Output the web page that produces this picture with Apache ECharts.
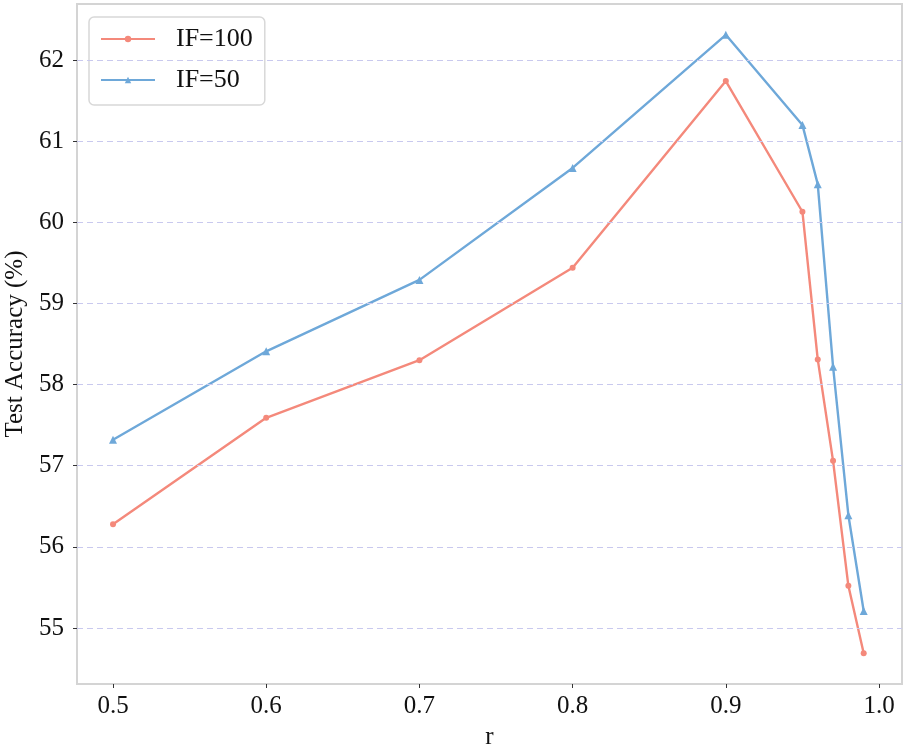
<!DOCTYPE html>
<html><head><meta charset="utf-8">
<script src="https://cdn.jsdelivr.net/npm/echarts@6/dist/echarts.min.js"></script>
<style>html,body{margin:0;padding:0;background:#fff}#c{width:907px;height:749px}</style>
</head><body><div id="c"></div>
<script>
const rValues = [0.5, 0.6, 0.7, 0.8, 0.9, 0.95, 0.96, 0.97, 0.98, 0.99];
const if100 = [56.28, 57.59, 58.30, 59.44, 61.74, 60.13, 58.31, 57.06, 55.52, 54.69];
const if50 = [57.32, 58.41, 59.29, 60.67, 62.31, 61.20, 60.47, 58.22, 56.39, 55.21];
const xTicks = [0.5, 0.6, 0.7, 0.8, 0.9, 1.0];
const yTicks = [55, 56, 57, 58, 59, 60, 61, 62];

const font = "'Liberation Serif', serif";
const chart = echarts.init(document.getElementById('c'));
const gridLines = {
  silent: true, symbol: 'none', label: {show: false},
  lineStyle: {color: '#c9c9ee', type: [6, 4], width: 1},
  data: yTicks.map(v => ({yAxis: v}))
};
chart.setOption({
  animation: false,
  grid: {left: 77, top: 4, right: 5, bottom: 65, show: true, borderColor: '#d4d4d4', borderWidth: 2,
    outerBoundsMode: 'none', containLabel: false},
  legend: {
    left: 89, top: 17, orient: 'vertical',
    itemWidth: 54, itemHeight: 8, itemGap: 15,
    padding: [9, 12, 12, 11],
    borderColor: '#d8d8d8', borderWidth: 1.5, borderRadius: 5,
    textStyle: {fontFamily: font, fontSize: 26, color: '#111', lineHeight: 24, padding: [0, 0, 0, 16]},
    data: ['IF=100', 'IF=50']
  },
  xAxis: {
    type: 'value', min: 0.4765, max: 1.015,
    name: 'r', nameLocation: 'middle', nameGap: 41,
    nameTextStyle: {fontFamily: font, fontSize: 25, color: '#111'},
    axisLine: {show: true, lineStyle: {color: '#d4d4d4', width: 2}},
    axisTick: {show: true, length: 4, lineStyle: {color: '#333'}, customValues: xTicks},
    axisLabel: {fontFamily: font, fontSize: 25, color: '#111', margin: 10, customValues: xTicks,
      formatter: v => v.toFixed(1)},
    splitLine: {show: false}
  },
  yAxis: {
    type: 'value', min: 54.31, max: 62.69,
    name: 'Test Accuracy (%)', nameLocation: 'middle', nameGap: 42,
    nameTextStyle: {fontFamily: font, fontSize: 25, color: '#111'},
    axisLine: {show: true, lineStyle: {color: '#d4d4d4', width: 2}},
    axisTick: {show: true, length: 4, lineStyle: {color: '#333'}, customValues: yTicks},
    axisLabel: {fontFamily: font, fontSize: 25, color: '#111', margin: 13, customValues: yTicks,
      formatter: v => String(Math.round(v))},
    splitLine: {show: false}
  },
  series: [
    {
      name: 'IF=100', type: 'line', data: rValues.map((r, i) => [r, if100[i]]),
      symbol: 'circle', symbolSize: 6, showAllSymbol: true,
      lineStyle: {color: '#f4897b', width: 2.4}, itemStyle: {color: '#f4897b'},
      markLine: gridLines, z: 3
    },
    {
      name: 'IF=50', type: 'line', data: rValues.map((r, i) => [r, if50[i]]),
      symbol: 'triangle', symbolSize: 8, showAllSymbol: true,
      lineStyle: {color: '#6ea8d9', width: 2.4}, itemStyle: {color: '#6ea8d9'}, z: 3
    }
  ]
});
</script></body></html>
